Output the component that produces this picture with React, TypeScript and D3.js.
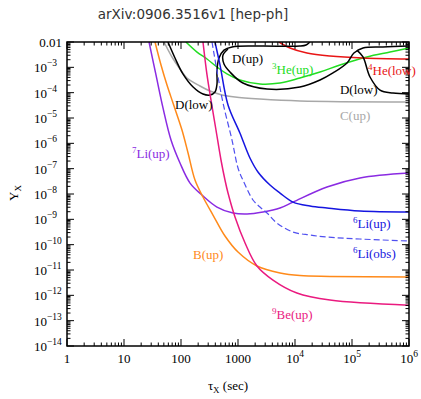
import React from 'react';
import * as d3 from 'd3';

const W = 421;
const H = 399;
const margin = { left: 67, right: 12, top: 42, bottom: 53 };

// axis ticks
const tauTicks = [1, 10, 100, 1000, 1e4, 1e5, 1e6];
const tauLabels: [string, string][] = [
  ['1', ''], ['10', ''], ['100', ''], ['1000', ''], ['10', '4'], ['10', '5'], ['10', '6'],
];
const yTicks = [1e-2, 1e-3, 1e-4, 1e-5, 1e-6, 1e-7, 1e-8, 1e-9, 1e-10, 1e-11, 1e-12, 1e-13, 1e-14];
const yLabels: [string, string][] = [
  ['0.01', ''], ['10', '\u22123'], ['10', '\u22124'], ['10', '\u22125'], ['10', '\u22126'],
  ['10', '\u22127'], ['10', '\u22128'], ['10', '\u22129'], ['10', '\u221210'], ['10', '\u221211'],
  ['10', '\u221212'], ['10', '\u221213'], ['10', '\u221214'],
];

// [tau (sec), Y_X]
const li7Up = [
  [27.5, 1e-2], [36.4, 5.0e-4], [48.3, 2.5e-5], [66.8, 1.35e-6], [96, 1.67e-7], [144, 2.7e-8],
  [233, 9.1e-9], [428, 3.06e-9], [817, 1.77e-9], [1440, 1.62e-9], [2750, 1.95e-9], [5460, 2.8e-9],
  [9230, 4.8e-9], [36400, 1.89e-8], [138000, 4.3e-8], [1e6, 6.7e-8],
];
const bUp = [
  [35, 1e-2], [44.6, 1.24e-3], [56.8, 2.0e-4], [72.4, 3.9e-5], [104, 3.36e-6], [133, 4.15e-7],
  [176, 3.56e-8], [243, 7.6e-9], [364, 1.48e-9], [591, 2.19e-10], [1000, 5.1e-11], [2150, 1.44e-11],
  [5460, 7.6e-12], [12200, 6.0e-12], [41100, 5.6e-12], [1e6, 5.3e-12],
];
const be9Up = [
  [243, 1e-2], [286, 5.0e-4], [336, 5.1e-5], [411, 3.36e-6], [503, 2.2e-7], [591, 3.56e-8],
  [668, 1.09e-8], [886, 1.23e-9], [1330, 1.16e-10], [2150, 1.44e-11], [4110, 4.0e-12],
  [10800, 1.23e-12], [41100, 6.5e-13], [1e6, 4.1e-13],
];
const li6Up = [
  [395, 1e-2], [483, 1.24e-3], [668, 3.26e-5], [1080, 2.55e-6], [1620, 2.63e-7], [2240, 7.4e-8],
  [3640, 2.26e-8], [5460, 1.09e-8], [9230, 4.8e-9], [18300, 3.36e-9], [36400, 2.8e-9],
  [138000, 2.13e-9], [1e6, 1.95e-9],
];
const li6Obs = [
  [350, 1e-2], [428, 7.2e-4], [546, 3.9e-5], [785, 1.35e-6], [1000, 1.06e-7], [1220, 3.56e-8],
  [1830, 5.8e-9], [2430, 3.06e-9], [3230, 1.77e-9], [4830, 7.1e-10], [9230, 3.15e-10],
  [18300, 2.4e-10], [36400, 2.0e-10], [138000, 1.67e-10], [1e6, 1.39e-10],
];
const cUp = [
  [50.3, 1e-2], [69.5, 2.56e-3], [96, 8.6e-4], [127, 3.8e-4], [215, 1.83e-4], [323, 1.16e-4],
  [524, 8.1e-5], [886, 6.7e-5], [2430, 5.6e-5], [12200, 4.7e-5], [1e6, 4.3e-5],
];
const he3Up = [
  [122, 1e-2], [191, 4.0e-3], [286, 2.13e-3], [428, 1.03e-3], [641, 5.5e-4], [1080, 3.16e-4],
  [2430, 2.2e-4], [5460, 2.4e-4], [12200, 3.8e-4], [27500, 6.5e-4], [61500, 1.24e-3],
  [183000, 2.56e-3], [464000, 4.0e-3], [1e6, 5.8e-3],
];
const he4Low = [
  [5240, 1e-2], [8170, 5.8e-3], [16200, 3.68e-3], [41100, 2.8e-3], [156000, 2.33e-3], [1e6, 2.13e-3],
];
const dLowLeft = [
  [59.1, 1e-2], [78.5, 2.33e-3], [108, 5.5e-4], [163, 1.67e-4], [243, 8.9e-5], [323, 8.1e-5],
  [395, 1.06e-4], [428, 2.2e-4], [428, 7.9e-4], [464, 2.33e-3], [568, 4.8e-3], [785, 6.4e-3],
  [2430, 6.9e-3], [12200, 6.9e-3], [15600, 7.6e-3], [18300, 1e-2],
];
const dUp = [
  [668, 5.3e-3], [546, 3.07e-3], [568, 1.35e-3], [724, 6.5e-4], [1220, 2.4e-4], [3230, 1.39e-4],
  [12200, 1.67e-4], [27500, 3.16e-4], [46400, 6.0e-4], [81700, 1.48e-3], [108000, 3.68e-3],
  [156000, 5.8e-3], [350000, 6.4e-3], [1e6, 6.9e-3],
];
const dLowRight = [
  [122000, 4.8e-3], [156000, 2.56e-3], [207000, 4.15e-4], [310000, 1.27e-4], [524000, 9.7e-5],
  [1e6, 8.9e-5],
];

const series = [
  { data: cUp, color: '#a8a8a8', dash: null, width: 1.5 },
  { data: he3Up, color: '#22dd22', dash: null, width: 1.5 },
  { data: he4Low, color: '#e81515', dash: null, width: 1.5 },
  { data: dLowLeft, color: '#000', dash: null, width: 1.5 },
  { data: dUp, color: '#000', dash: null, width: 1.5 },
  { data: dLowRight, color: '#000', dash: null, width: 1.5 },
  { data: li7Up, color: '#8a2be2', dash: null, width: 1.5 },
  { data: bUp, color: '#ff8a1a', dash: null, width: 1.5 },
  { data: be9Up, color: '#ea1a7f', dash: null, width: 1.5 },
  { data: li6Obs, color: '#5050f0', dash: '6,3', width: 1.2 },
  { data: li6Up, color: '#1515e0', dash: null, width: 1.5 },
];

// label anchor [tau, Y] at baseline start
const labels = [
  { sup: '', text: 'D(up)', at: [785, 1.5e-3], color: '#000' },
  { sup: '3', text: 'He(up)', at: [3950, 5.5e-4], color: '#22dd22' },
  { sup: '4', text: 'He(low)', at: [191000, 5.0e-4], color: '#e81515' },
  { sup: '', text: 'D(low)', at: [61500, 8.9e-5], color: '#000' },
  { sup: '', text: 'D(low)', at: [78.5, 2.26e-5], color: '#000' },
  { sup: '', text: 'C(up)', at: [61500, 8.3e-6], color: '#a8a8a8' },
  { sup: '7', text: 'Li(up)', at: [13.8, 2.6e-7], color: '#8a2be2' },
  { sup: '6', text: 'Li(up)', at: [104000, 4.5e-10], color: '#1515e0' },
  { sup: '6', text: 'Li(obs)', at: [104000, 3.0e-11], color: '#1515e0' },
  { sup: '', text: 'B(up)', at: [163, 2.7e-11], color: '#ff8a1a' },
  { sup: '9', text: 'Be(up)', at: [3950, 1.16e-13], color: '#ea1a7f' },
];

const serif = '"Liberation Serif", "DejaVu Serif", serif';

export default function App() {
  const x = d3.scaleLog().domain([1, 1e6]).range([margin.left, W - margin.right]);
  const y = d3.scaleLog().domain([1e-14, 1e-2]).range([H - margin.bottom, margin.top]);
  const x0 = x.range()[0], x1 = x.range()[1];
  const y0 = y.range()[0], y1 = y.range()[1];

  const line = d3
    .line<number[]>()
    .x(d => x(d[0]))
    .y(d => y(d[1]))
    .curve(d3.curveCatmullRom.alpha(0.5));

  // minor ticks
  const xMinor: number[] = [];
  for (let e = 0; e < 6; e++) for (let k = 2; k <= 9; k++) xMinor.push(k * Math.pow(10, e));
  const yMinor: number[] = [];
  for (let e = -14; e < -2; e++) for (let k = 2; k <= 9; k++) yMinor.push(k * Math.pow(10, e));

  return (
    <svg width={W} height={H} style={{ position: 'absolute', left: 0, top: 0, background: '#fff' }}>
      <defs>
        <clipPath id="plot">
          <rect x={x0} y={y1} width={x1 - x0} height={y0 - y1} />
        </clipPath>
      </defs>
      <text x={193} y={19} textAnchor="middle" fontFamily='"DejaVu Sans", sans-serif' fontSize={13.5} fill="#333">
        arXiv:0906.3516v1 [hep-ph]
      </text>

      <g clipPath="url(#plot)" fill="none">
        {series.map((s, i) => (
          <path key={i} d={line(s.data as number[][]) || ''} stroke={s.color} strokeWidth={s.width}
            strokeDasharray={s.dash || undefined} />
        ))}
      </g>

      {/* ticks */}
      <g stroke="#000" strokeWidth={1}>
        {tauTicks.map((t, i) => (
          <g key={'xt' + i}>
            <line x1={x(t)} x2={x(t)} y1={y0} y2={y0 - 7} />
            <line x1={x(t)} x2={x(t)} y1={y1} y2={y1 + 7} />
          </g>
        ))}
        {xMinor.map((t, i) => (
          <g key={'xm' + i}>
            <line x1={x(t)} x2={x(t)} y1={y0} y2={y0 - 3.5} />
            <line x1={x(t)} x2={x(t)} y1={y1} y2={y1 + 3.5} />
          </g>
        ))}
        {yTicks.map((t, i) => (
          <g key={'yt' + i}>
            <line x1={x0} x2={x0 + 7} y1={y(t)} y2={y(t)} />
            <line x1={x1} x2={x1 - 7} y1={y(t)} y2={y(t)} />
          </g>
        ))}
        {yMinor.map((t, i) => (
          <g key={'ym' + i}>
            <line x1={x0} x2={x0 + 3.5} y1={y(t)} y2={y(t)} />
            <line x1={x1} x2={x1 - 3.5} y1={y(t)} y2={y(t)} />
          </g>
        ))}
      </g>
      <rect x={x0} y={y1} width={x1 - x0} height={y0 - y1} fill="none" stroke="#000" strokeWidth={1.5} />

      {/* tick labels */}
      <g fontFamily={serif} fontSize={13} fill="#000">
        {tauTicks.map((t, i) => (
          <text key={'xl' + i} x={x(t)} y={363} textAnchor="middle">
            {tauLabels[i][0]}
            {tauLabels[i][1] && <tspan dy={-6} fontSize={9.5}>{tauLabels[i][1]}</tspan>}
          </text>
        ))}
        {yTicks.map((t, i) => (
          <text key={'yl' + i} x={yLabels[i][1] ? 47 : 62} y={y(t) + 5} textAnchor="end">
            {yLabels[i][0]}
          </text>
        ))}
        {yTicks.map((t, i) =>
          yLabels[i][1] ? (
            <text key={'ys' + i} x={47} y={y(t) - 1} fontSize={9.5}>
              {yLabels[i][1]}
            </text>
          ) : null
        )}
      </g>

      {/* axis titles */}
      <text x={228} y={390} textAnchor="middle" fontFamily={serif} fontSize={13}>
        {'\u03c4'}
        <tspan dy={3} fontSize={9}>X</tspan>
        <tspan dy={-3}> (sec)</tspan>
      </text>
      <text transform="translate(18,193) rotate(-90)" textAnchor="middle" fontFamily={serif} fontSize={13}>
        Y<tspan dy={3} fontSize={9}>X</tspan>
      </text>

      {/* curve labels */}
      <g fontFamily={serif} fontSize={13}>
        {labels.map((l, i) => (
          <text key={'lb' + i} x={x(l.at[0])} y={y(l.at[1])} fill={l.color}>
            {l.sup && <tspan dy={-5} fontSize={9}>{l.sup}</tspan>}
            <tspan dy={l.sup ? 5 : 0}>{l.text}</tspan>
          </text>
        ))}
      </g>
    </svg>
  );
}
